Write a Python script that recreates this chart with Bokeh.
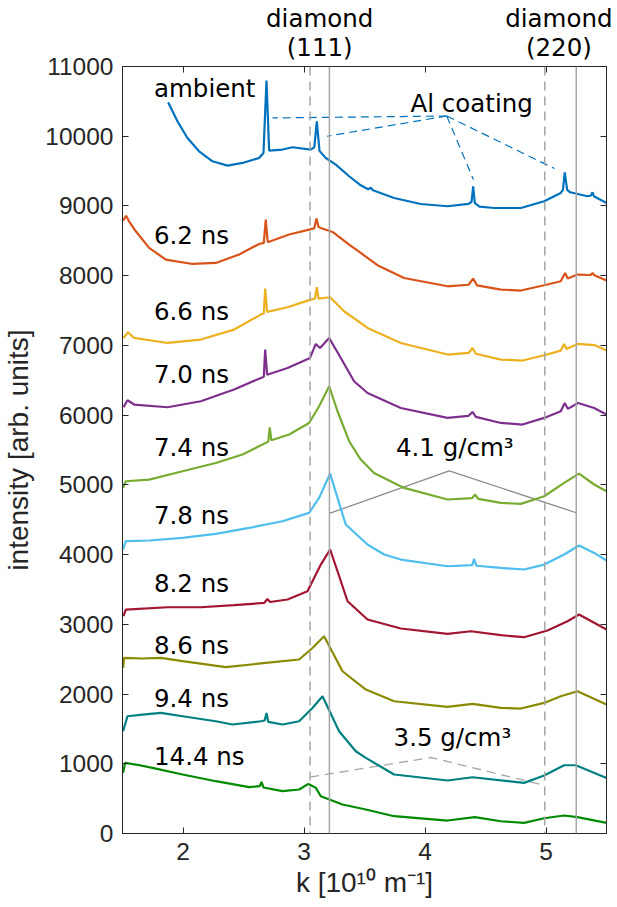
from bokeh.plotting import figure
from bokeh.models import LinearAxis, FixedTicker, Span, Label, ColumnDataSource
from bokeh.core.properties import value
from bokeh.embed import file_html
from bokeh.resources import INLINE

# ---------------- data ----------------
k_ambient = [1.877, 1.955, 2.037, 2.133, 2.244, 2.368, 2.492, 2.629, 2.665, 2.690, 2.712, 2.822, 2.905, 3.056, 3.085,
             3.106, 3.128, 3.18, 3.263, 3.373, 3.469, 3.53, 3.552, 3.57, 3.745, 3.965, 4.186, 4.36, 4.385, 4.398,
             4.412, 4.45, 4.571, 4.792, 4.985, 5.122, 5.14, 5.155, 5.175, 5.20, 5.343, 5.372, 5.384, 5.396, 5.5]
i_ambient = [10487, 10212, 9975, 9784, 9641, 9579, 9617, 9688, 9760, 10798, 9794, 9809, 9842, 9809, 9840,
             10214, 9790, 9688, 9593, 9426, 9296, 9240, 9260, 9225, 9114, 9028, 8996, 9030, 9060, 9282,
             9040, 8990, 8971, 8971, 9067, 9186, 9230, 9483, 9230, 9196, 9139, 9150, 9196, 9140, 9043]

k_62 = [1.505, 1.53, 1.55, 1.61, 1.72, 1.858, 2.079, 2.271, 2.464, 2.629, 2.668, 2.684, 2.70, 2.877, 3.042, 3.085,
        3.103, 3.12, 3.139, 3.236, 3.373, 3.469, 3.607, 3.827, 4.186, 4.36, 4.398, 4.43, 4.627, 4.792, 4.985,
        5.122, 5.158, 5.18, 5.26, 5.37, 5.385, 5.40, 5.5]
i_62 = [8790, 8860, 8790, 8637, 8398, 8231, 8168, 8183, 8303, 8455, 8470, 8805, 8480, 8590, 8661, 8680,
        8819, 8700, 8684, 8627, 8446, 8326, 8150, 7967, 7848, 7870, 7959, 7860, 7801, 7787, 7863,
        7920, 8039, 7960, 8016, 8010, 8040, 8005, 7930]

k_66 = [1.508, 1.546, 1.596, 1.872, 2.147, 2.422, 2.643, 2.668, 2.679, 2.695, 2.864, 3.056, 3.09, 3.106, 3.12,
        3.216, 3.331, 3.525, 3.8, 4.186, 4.36, 4.393, 4.42, 4.627, 4.806, 4.985, 5.122, 5.15, 5.17, 5.26, 5.40, 5.5]
i_66 = [7107, 7189, 7107, 7035, 7084, 7227, 7442, 7460, 7815, 7480, 7547, 7657, 7670, 7834, 7670,
        7691, 7490, 7250, 7035, 6869, 6892, 6963, 6880, 6797, 6783, 6859, 6926, 7021, 6950, 7021, 7005, 6926]

k_70 = [1.508, 1.541, 1.596, 1.872, 2.147, 2.422, 2.643, 2.668, 2.679, 2.695, 2.864, 3.05, 3.097, 3.133, 3.208,
        3.304, 3.414, 3.525, 3.8, 4.186, 4.36, 4.393, 4.42, 4.627, 4.806, 4.985, 5.122, 5.155, 5.18, 5.265,
        5.398, 5.5]
i_70 = [6113, 6213, 6152, 6113, 6199, 6367, 6533, 6550, 6941, 6580, 6677, 6820, 7021, 6963, 7107,
        6820, 6486, 6318, 6103, 5960, 5990, 6046, 5975, 5888, 5865, 5960, 6056, 6175, 6090, 6175,
        6103, 6008]

k_74 = [1.505, 1.527, 1.72, 1.996, 2.271, 2.492, 2.657, 2.705, 2.717, 2.73, 2.877, 3.042, 3.125, 3.208, 3.277,
        3.373, 3.469, 3.579, 3.827, 4.186, 4.39, 4.412, 4.44, 4.627, 4.792, 4.985, 5.15, 5.273, 5.398, 5.5]
i_74 = [4956, 5052, 5076, 5195, 5314, 5435, 5578, 5620, 5826, 5640, 5722, 5888, 6128, 6414, 6056,
        5626, 5363, 5171, 4956, 4790, 4810, 4861, 4800, 4741, 4727, 4837, 5028, 5162, 5005, 4909]

k_78 = [1.505, 1.527, 1.72, 1.996, 2.271, 2.546, 2.822, 3.042, 3.125, 3.216, 3.277, 3.345, 3.525, 3.662, 3.8,
        4.186, 4.39, 4.406, 4.425, 4.627, 4.819, 4.985, 5.15, 5.273, 5.398, 5.5]
i_78 = [4073, 4192, 4202, 4239, 4296, 4382, 4478, 4598, 4813, 5162, 4813, 4431, 4144, 4001, 3929,
        3833, 3850, 3938, 3840, 3809, 3786, 3857, 4001, 4130, 4024, 3915]

k_82 = [1.508, 1.527, 1.872, 2.147, 2.422, 2.67, 2.698, 2.72, 2.864, 3.029, 3.139, 3.216, 3.277, 3.36, 3.525,
        3.8, 4.186, 4.379, 4.627, 4.819, 5.012, 5.178, 5.273, 5.5]
i_82 = [3116, 3212, 3245, 3245, 3274, 3307, 3364, 3320, 3356, 3475, 3857, 4073, 3761, 3331, 3069,
        2940, 2862, 2901, 2844, 2815, 2911, 3044, 3140, 2925]

k_86 = [1.505, 1.513, 1.665, 1.817, 1.996, 2.354, 2.684, 2.96, 3.07, 3.166, 3.318, 3.511, 3.745, 4.186, 4.393,
        4.627, 4.792, 4.985, 5.122, 5.26, 5.5]
i_86 = [2375, 2518, 2510, 2518, 2471, 2385, 2446, 2495, 2661, 2829, 2327, 2065, 1897, 1815, 1859,
        1801, 1792, 1873, 1969, 2041, 1850]

k_94 = [1.505, 1.541, 1.665, 1.817, 1.996, 2.271, 2.409, 2.643, 2.675, 2.69, 2.705, 2.822, 2.96, 3.07, 3.153,
        3.29, 3.428, 3.511, 3.745, 4.186, 4.393, 4.819, 4.985, 5.15, 5.246, 5.5]
i_94 = [1467, 1682, 1706, 1729, 1682, 1610, 1563, 1610, 1620, 1729, 1600, 1563, 1610, 1801, 1969,
        1467, 1180, 1084, 846, 760, 807, 726, 832, 979, 979, 797]

k_144 = [1.505, 1.521, 1.61, 1.748, 1.996, 2.271, 2.546, 2.635, 2.649, 2.665, 2.822, 2.96, 3.037, 3.098, 3.139,
         3.318, 3.511, 3.745, 4.186, 4.412, 4.627, 4.819, 4.985, 5.15, 5.26, 5.5]
i_144 = [869, 1012, 989, 941, 846, 750, 664, 680, 740, 660, 607, 631, 711, 654, 535,
         416, 344, 248, 186, 234, 176, 152, 219, 258, 234, 152]

series_k = [k_ambient, k_62, k_66, k_70, k_74, k_78, k_82, k_86, k_94, k_144]
series_i = [i_ambient, i_62, i_66, i_70, i_74, i_78, i_82, i_86, i_94, i_144]
series_colors = ["#0072BD", "#D95319", "#EDB120", "#7E2F8E", "#77AC30", "#4DBEEE", "#A2142F",
                 "#8a8a00", "#008080", "#008a00"]

time_labels = ["6.2 ns", "6.6 ns", "7.0 ns", "7.4 ns", "7.8 ns", "8.2 ns", "8.6 ns", "9.4 ns", "14.4 ns"]
time_label_k = [1.76] * 9
time_label_i = [8580, 7486, 6586, 5530, 4564, 3582, 2700, 1933, 1108]

diamond_k = [3.05, 4.99]          # ambient diamond reflections (dashed)
compressed_k = [3.21, 5.25]       # compressed diamond reflections (solid)
diamond_label_k = [3.13, 5.13]
diamond_labels = ["diamond\n(111)", "diamond\n(220)"]

dens41_k = [3.21, 4.20, 5.25]
dens41_i = [4590, 5200, 4600]
dens35_k = [3.05, 4.05, 4.99]
dens35_i = [810, 1090, 690]

al_apex = (4.18, 10290)
al_end_k = [2.74, 3.19, 4.40, 5.07]
al_end_i = [10262, 10000, 9378, 9536]

x_ticks = [2, 3, 4, 5]
y_ticks = list(range(0, 11001, 1000))

# ---------------- figure ----------------
AX = "#262626"
FONT = "DejaVu Sans"
p = figure(frame_width=484, frame_height=767, x_range=(1.5, 5.5), y_range=(0, 11000),
           output_backend="svg", toolbar_location=None,
           min_border_left=119, min_border_right=6, min_border_top=66, min_border_bottom=60,
           x_axis_label="k [10¹⁰ m⁻¹]", y_axis_label="intensity [arb. units]")
p.xgrid.visible = False
p.ygrid.visible = False
p.outline_line_color = AX
p.outline_line_width = 1
p.background_fill_color = "white"
p.border_fill_color = "white"

p.xaxis.ticker = FixedTicker(ticks=x_ticks)
p.yaxis.ticker = FixedTicker(ticks=y_ticks)
for ax in [p.xaxis[0], p.yaxis[0]]:
    ax.major_tick_in = 6
    ax.major_tick_out = 0
    ax.minor_tick_line_color = None
    ax.axis_line_color = AX
    ax.major_tick_line_color = AX
    ax.major_label_text_font = "Liberation Sans"
    ax.major_label_text_font_size = "24.5px"
    ax.major_label_text_color = AX
    ax.axis_label_text_font = "Liberation Sans"
    ax.axis_label_text_font_size = "28px"
    ax.axis_label_text_font_style = "normal"
    ax.axis_label_text_color = AX
p.xaxis.major_label_standoff = 9
p.yaxis.major_label_standoff = 9
p.xaxis.axis_label_standoff = 4
p.yaxis.axis_label_standoff = 8

top = LinearAxis(ticker=FixedTicker(ticks=x_ticks), major_tick_in=6, major_tick_out=0,
                 minor_tick_line_color=None, major_label_text_font_size="1px",
                 major_label_text_color=None, major_label_standoff=0,
                 axis_line_color=AX, major_tick_line_color=AX)
right = LinearAxis(ticker=FixedTicker(ticks=y_ticks), major_tick_in=6, major_tick_out=0,
                   minor_tick_line_color=None, major_label_text_font_size="1px",
                   major_label_text_color=None, major_label_standoff=0,
                   axis_line_color=AX, major_tick_line_color=AX)
p.add_layout(top, "above")
p.add_layout(right, "right")

# diamond reflection names, shown as labels of an extra (line-less) top axis
dlab = LinearAxis(ticker=FixedTicker(ticks=diamond_label_k),
                  major_label_overrides={k: t for k, t in zip(diamond_label_k, diamond_labels)},
                  axis_line_color=None, major_tick_line_color=None, minor_tick_line_color=None,
                  major_tick_in=0, major_tick_out=0,
                  major_label_text_font=FONT, major_label_text_font_size="24.5px",
                  major_label_text_line_height=1.0,
                  major_label_text_color="black", major_label_standoff=5)
p.add_layout(dlab, "above")

# reference lines
for kk in diamond_k:
    p.add_layout(Span(location=kk, dimension="height", line_color="#a6a6a6",
                      line_width=1.5, line_dash="9 6"))
for kk in compressed_k:
    p.add_layout(Span(location=kk, dimension="height", line_color="#a6a6a6", line_width=1.5))

# density guides
p.line(dens41_k, dens41_i, line_color="#8c8c8c", line_width=1.3)
p.line(dens35_k, dens35_i, line_color="#a6a6a6", line_width=1.3, line_dash="9 6")

# spectra
for ks, iv, c in zip(series_k, series_i, series_colors):
    p.line(ks, iv, line_color=c, line_width=2.2)

# Al coating pointers
p.segment(x0=[al_apex[0]] * len(al_end_k), y0=[al_apex[1]] * len(al_end_k),
          x1=al_end_k, y1=al_end_i, line_color="#0072BD", line_width=1.2, line_dash="8 5")

# text
src = ColumnDataSource(dict(x=time_label_k, y=time_label_i, t=time_labels))
p.text(x="x", y="y", text="t", source=src, text_font=value(FONT), text_font_size="24.5px",
       text_align="left", text_baseline="middle", text_color="black")

def lab(x, y, t, align="left"):
    p.add_layout(Label(x=x, y=y, text=t, text_font=FONT, text_font_size="24.5px",
                       text_align=align, text_baseline="middle", text_color="black"))

lab(1.76, 10688, "ambient")
lab(3.88, 10472, "Al coating")
lab(3.76, 5530, "4.1 g/cm³")
lab(3.74, 1370, "3.5 g/cm³")

open("out.html", "w").write(file_html(p, INLINE))
